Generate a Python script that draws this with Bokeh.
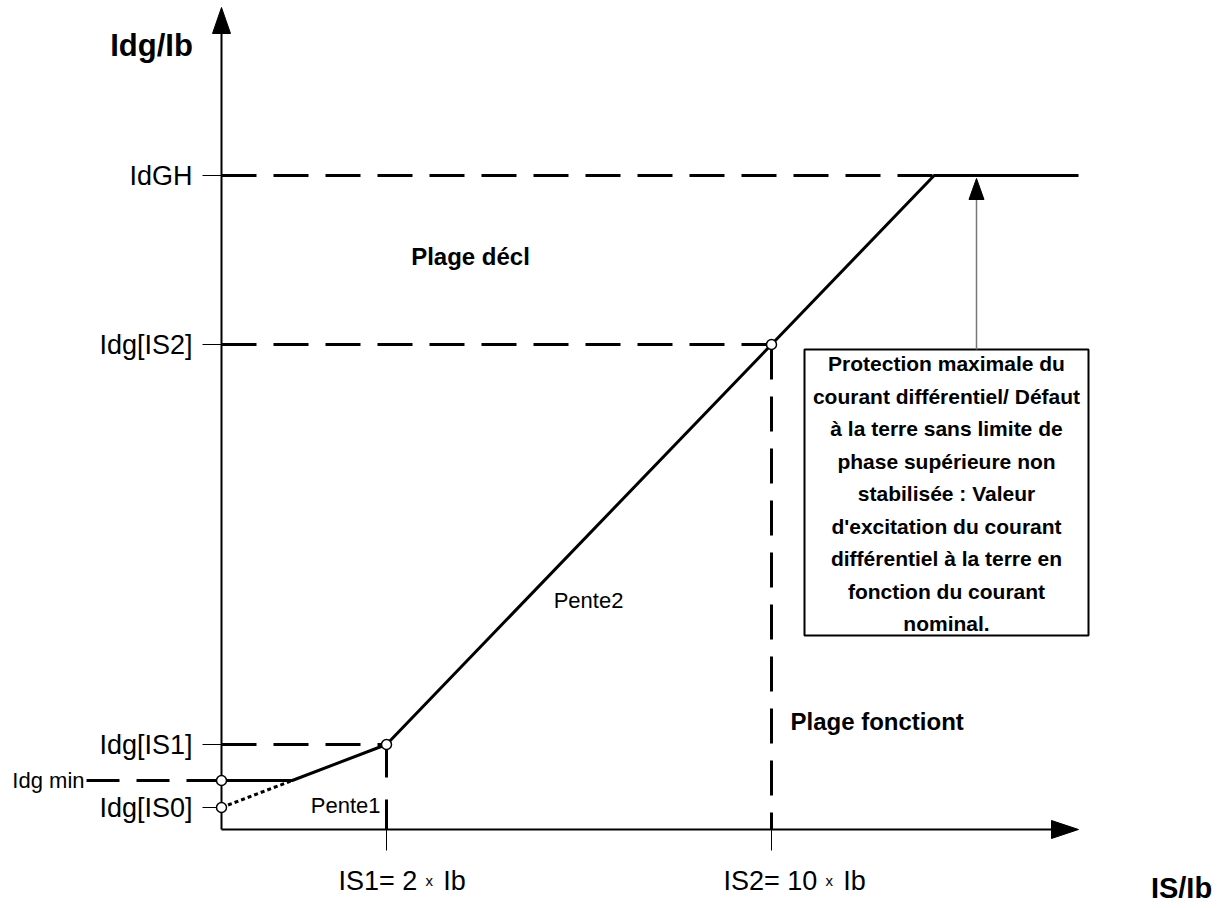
from bokeh.plotting import figure
from bokeh.models import Range1d
from bokeh.core.properties import value
from bokeh.embed import file_html
from bokeh.resources import INLINE

# ---------------- data (schematic diagram units, origin = axis crossing) ----------------
IS_X = [165, 550]                      # IS1, IS2 positions on the IS/Ib axis
IS_MAIN = ["IS1= 2", "IS2= 10"]        # tick label text (before the small "x")
IS_UNIT = "Ib"
Y_NAMES = ["IdGH", "Idg[IS2]", "Idg[IS1]", "Idg[IS0]"]
Y_LEVELS = [654, 485, 85, 22]          # IdGH, Idg[IS2], Idg[IS1], Idg[IS0]
IDG_MIN = 49
IDG_MIN_NAME = "Idg min"
X_END = 857                            # tip of IS/Ib axis arrow
Y_END = 822                            # tip of Idg/Ib axis arrow

BOX_LINES = [
    "Protection maximale du",
    "courant différentiel/ Défaut",
    "à la terre sans limite de",
    "phase supérieure non",
    "stabilisée : Valeur",
    "d'excitation du courant",
    "différentiel à la terre en",
    "fonction du courant",
    "nominal.",
]
BOX = dict(left=583, right=867, top=480, bottom=194)
REGION_LABELS = [("Plage décl", 249, 573), ("Plage fonctiont", 569, 108)]

FONT = value("Liberation Sans")

idgh, idg_is2, idg_is1, idg_is0 = Y_LEVELS
is1, is2 = IS_X
# derived curve break points
slope1 = (idg_is1 - idg_is0) / is1
k1 = (IDG_MIN - idg_is0) / slope1
slope2 = (idg_is2 - idg_is1) / (is2 - is1)
k2 = is2 + (idgh - idg_is2) / slope2

p = figure(width=1225, height=908, output_backend="svg", toolbar_location=None,
           x_range=Range1d(-221, 1004), y_range=Range1d(-79, 829),
           x_axis_type=None, y_axis_type=None, min_border=0,
           outline_line_color=None, background_fill_color="white")
p.xgrid.visible = False
p.ygrid.visible = False

# axes with arrow heads
p.line([0, 0], [0, Y_END - 26], line_color="black", line_width=2)
p.patch([-9, 9, 0], [Y_END - 26, Y_END - 26, Y_END], color="black")
p.line([0, X_END - 27], [0, 0], line_color="black", line_width=2)
p.patch([X_END - 27, X_END - 27, X_END], [-9, 9, 0], color="black")

# y ticks + labels
for name, lev in zip(Y_NAMES, Y_LEVELS):
    p.line([-19, 0], [lev, lev], line_color="black", line_width=1)
p.text(x=[-29] * len(Y_LEVELS), y=Y_LEVELS, text=Y_NAMES, text_font=FONT,
       text_font_size="27px", text_align="right", text_baseline="middle", text_color="black")

# Idg min
p.line([-135, 0], [IDG_MIN, IDG_MIN], line_color="black", line_width=3, line_dash="33 17")
p.text(x=[-137], y=[IDG_MIN], text=[IDG_MIN_NAME], text_font=FONT, text_font_size="22px",
       text_align="right", text_baseline="middle", text_color="black")

# dashed guide lines
dash = "35 17"
p.line([0, k2], [idgh, idgh], line_color="black", line_width=3, line_dash=dash)
p.line([0, is2], [idg_is2, idg_is2], line_color="black", line_width=3, line_dash=dash)
p.line([0, is1], [idg_is1, idg_is1], line_color="black", line_width=3, line_dash=dash)
p.line([is1, is1], [idg_is1, 0], line_color="black", line_width=3, line_dash="33 22")
p.line([is2, is2], [idg_is2, 0], line_color="black", line_width=3, line_dash=dash)

# x ticks + labels
W = {'I': .278, 'S': .667, '1': .556, '2': .556, '0': .556, '=': .584, ' ': .278}
for xv, main in zip(IS_X, IS_MAIN):
    p.line([xv, xv], [0, -21], line_color="black", line_width=1)
    left = xv - 48
    end = left + sum(W.get(c, .556) for c in main) * 27
    p.text(x=[left], y=[-51], text=[main], text_font=FONT, text_font_size="27px",
           text_align="left", text_baseline="alphabetic", text_color="black")
    p.text(x=[end + 12], y=[-51], text=["x"], text_font=FONT, text_font_size="15px",
           text_align="center", text_baseline="alphabetic", text_color="black")
    p.text(x=[end + 26], y=[-51], text=[IS_UNIT], text_font=FONT, text_font_size="27px",
           text_align="left", text_baseline="alphabetic", text_color="black")

# characteristic curve
p.line([0, k1, is1, is2, k2, X_END], [IDG_MIN, IDG_MIN, idg_is1, idg_is2, idgh, idgh],
       line_color="black", line_width=3)
p.line([0, k1], [idg_is0, IDG_MIN], line_color="black", line_width=3, line_dash="4 3")
p.scatter(x=[0, 0, is1, is2], y=[IDG_MIN, idg_is0, idg_is1, idg_is2], size=10,
          fill_color="white", line_color="black", line_width=1.5)

# explanation box + arrow
p.quad(left=[BOX["left"]], right=[BOX["right"]], top=[BOX["top"]], bottom=[BOX["bottom"]],
       fill_color="white", line_color="black", line_width=2)
ax = 755
p.line([ax, ax], [BOX["top"], idgh - 24], line_color="#777777", line_width=1.5)
p.patch([ax - 7.5, ax + 7.5, ax], [idgh - 24, idgh - 24, idgh - 3], color="black")
cx = (BOX["left"] + BOX["right"]) / 2
n = len(BOX_LINES)
top_line, step = BOX["top"] - 14, 32.5
p.text(x=[cx] * n, y=[top_line - i * step for i in range(n)], text=BOX_LINES,
       text_font=FONT, text_font_size="21px", text_font_style="bold",
       text_align="center", text_baseline="middle", text_color="black")

# region labels
p.text(x=[REGION_LABELS[0][1]], y=[REGION_LABELS[0][2]], text=[REGION_LABELS[0][0]],
       text_font=FONT, text_font_size="24px", text_font_style="bold",
       text_align="center", text_baseline="middle", text_color="black")
p.text(x=[REGION_LABELS[1][1]], y=[REGION_LABELS[1][2]], text=[REGION_LABELS[1][0]],
       text_font=FONT, text_font_size="24px", text_font_style="bold",
       text_align="left", text_baseline="middle", text_color="black")
p.text(x=[367], y=[229], text=["Pente2"], text_font=FONT, text_font_size="22px",
       text_align="center", text_baseline="middle", text_color="black")
p.text(x=[159], y=[24], text=["Pente1"], text_font=FONT, text_font_size="22px",
       text_align="right", text_baseline="middle", text_color="black")

# axis titles
p.text(x=[-70], y=[784], text=["Idg/Ib"], text_font=FONT, text_font_size="31px",
       text_font_style="bold", text_align="center", text_baseline="middle", text_color="black")
p.text(x=[960], y=[-74], text=["IS/Ib"], text_font=FONT, text_font_size="29px",
       text_font_style="bold", text_align="center", text_baseline="bottom", text_color="black")

open("out.html", "w").write(file_html(p, INLINE))
